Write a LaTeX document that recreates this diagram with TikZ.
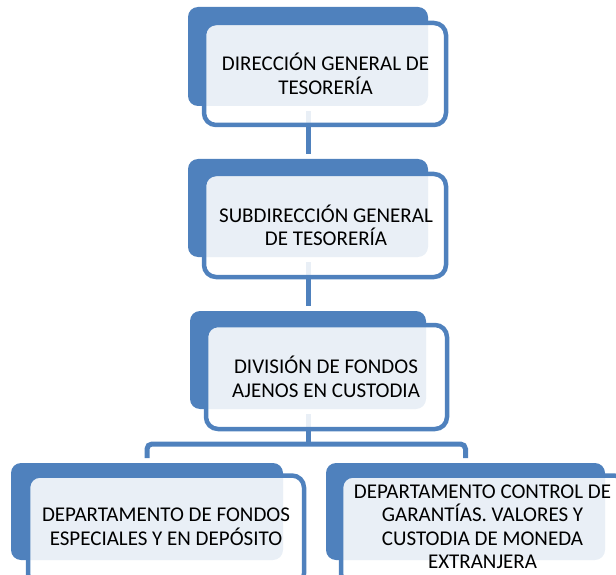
\documentclass[tikz,border=0pt]{standalone}
\usepackage{fontspec}
\setmainfont{Carlito}
\usetikzlibrary{calc}
\definecolor{ocblue}{HTML}{4F81BD}
\begin{document}
\begin{tikzpicture}[x=1pt,y=-1pt,
  backbox/.style={rectangle, fill=ocblue, rounded corners=10pt, inner sep=0pt, outer sep=0pt},
  frontbox/.style={rectangle, draw=ocblue, line width=4.5pt, fill=white, fill opacity=0.88,
    rounded corners=12pt, inner sep=0pt, outer sep=0pt},
  boxtext/.style={font=\fontsize{21}{23.5}\selectfont, align=center, text=black, inner sep=0pt},
  link/.style={draw=ocblue, line width=5pt}]
\clip (0,0) rectangle (616,575);
\useasboundingbox (0,0) rectangle (616,575);

% back panels
\node[backbox, minimum width=240pt, minimum height=99pt] (b1) at (308,56.5) {};
\node[backbox, minimum width=240pt, minimum height=98pt] (b2) at (308,208) {};
\node[backbox, minimum width=236pt, minimum height=98pt] (b3) at (308,360) {};
\node[backbox, minimum width=272pt, minimum height=97pt] (b4) at (147,511.5) {};
\node[backbox, minimum width=279pt, minimum height=97pt] (b5) at (465.5,511.5) {};
\coordinate (bus) at (308,444);

% connectors (behind the front panels)
\draw[link] ($(b1.south)+(0,5)$) -- ($(b2.north)+(0,-5)$);
\draw[link] ($(b2.south)+(0,5)$) -- ($(b3.north)+(0,-5)$);
\draw[link] ($(b3.south)+(0,5)$) -- (bus);
\draw[link, rounded corners=5pt] ($(b4.north)+(0,-5)$) |- (bus) -| ($(b5.north)+(0,-5)$);

% front panels
\node[frontbox, minimum width=242pt, minimum height=102pt] (f1) at (325,74) {};
\node[frontbox, minimum width=242pt, minimum height=103pt] (f2) at (325,225.5) {};
\node[frontbox, minimum width=241pt, minimum height=104pt] (f3) at (326.5,377) {};
\node[frontbox, minimum width=276pt, minimum height=110pt] (f4) at (166,530.5) {};
\node[frontbox, minimum width=285pt, minimum height=110pt] (f5) at (483.5,530.5) {};

% labels
\node[boxtext] (t1) at (325.5,74) {DIRECCIÓN GENERAL DE\\TESORERÍA};
\node[boxtext] (t2) at (326,225.5) {SUBDIRECCIÓN GENERAL\\DE TESORERÍA};
\node[boxtext] (t3) at (326,377) {DIVISIÓN DE FONDOS\\AJENOS EN CUSTODIA};
\node[boxtext] (t4) at (166,527) {DEPARTAMENTO DE FONDOS\\ESPECIALES Y EN DEPÓSITO};
\node[boxtext] (t5) at (482.5,527) {DEPARTAMENTO CONTROL DE\\GARANTÍAS. VALORES Y\\CUSTODIA DE MONEDA\\EXTRANJERA};
\end{tikzpicture}
\end{document}
